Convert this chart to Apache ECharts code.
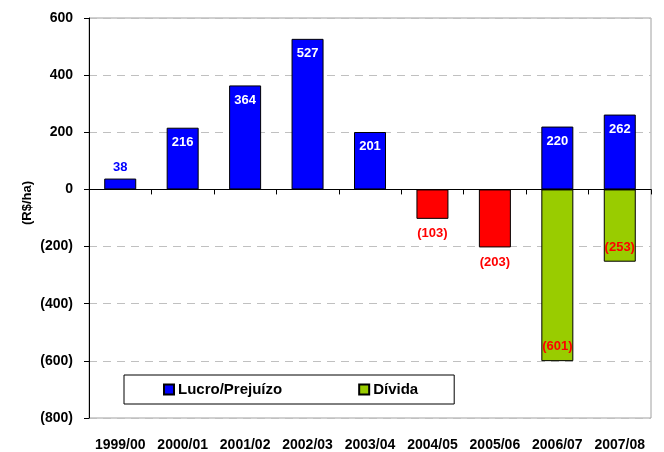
<!DOCTYPE html>
<html>
<head>
<meta charset="utf-8">
<script src="https://cdn.jsdelivr.net/npm/echarts@6/dist/echarts.min.js"></script>
<style>
html,body{margin:0;padding:0;background:#fff;}
#chart{width:664px;height:452px;}
</style>
</head>
<body>
<div id="chart"></div>
<script>
const categories = ['1999/00','2000/01','2001/02','2002/03','2003/04','2004/05','2005/06','2006/07','2007/08'];
const lucroValues = [38, 216, 364, 527, 201, -103, -203, 220, 262];
const dividaValues = [null, null, null, null, null, null, null, -601, -253];
const yTicks = { min: -800, max: 600, interval: 200 };

const FONT = 'Arial, "Liberation Sans", sans-serif';
const BLUE = '#0000FF', RED = '#FF0000', GREEN = '#99CC00';

function fmt(v) {
  v = Math.round(v);
  return v < 0 ? '(' + Math.abs(v) + ')' : String(v);
}

const lucroData = lucroValues.map(v => {
  if (v < 0) {
    return { value: v, itemStyle: { color: RED },
      label: { position: 'bottom', distance: 8, color: RED } };
  } else if (v < 60) {
    return { value: v, label: { position: 'top', distance: 5, color: BLUE } };
  }
  return { value: v, label: { position: 'insideTop', distance: 8, color: '#fff' } };
});

const chart = echarts.init(document.getElementById('chart'), null, { renderer: 'canvas' });
chart.setOption({
  animation: false,
  backgroundColor: '#fff',
  textStyle: { fontFamily: FONT },
  grid: { left: 89, right: 13, top: 18, bottom: 33, show: true, borderColor: '#a0a0a0', borderWidth: 1, backgroundColor: 'transparent' },
  legend: {
    data: ['Lucro/Prejuízo', 'Dívida'],
    left: 124, top: 375,
    orient: 'horizontal',
    icon: 'rect',
    itemWidth: 10, itemHeight: 10,
    itemGap: 76,
    padding: [7, 36, 7, 39],
    borderColor: '#000', borderWidth: 1,
    backgroundColor: '#fff',
    textStyle: { fontFamily: FONT, fontWeight: 'bold', fontSize: 15, color: '#000', padding: [0,0,0,-1] }
  },
  graphic: [{
    type: 'text',
    x: 27, y: 203,
    rotation: Math.PI / 2,
    style: { text: '(R$/ha)', fontFamily: FONT, fontWeight: 'bold', fontSize: 13, fill: '#000', align: 'center', verticalAlign: 'middle' }
  }],
  xAxis: [{
    type: 'category',
    data: categories,
    position: 'bottom',
    axisLine: { onZero: true, lineStyle: { color: '#000', width: 1 } },
    axisTick: { show: true, alignWithLabel: false, length: 5, lineStyle: { color: '#000' } },
    axisLabel: { show: false },
    splitLine: { show: false }
  }, {
    type: 'category',
    data: categories,
    position: 'bottom',
    axisLine: { show: false, onZero: false },
    axisTick: { show: false },
    axisLabel: { show: true, margin: 20, fontFamily: FONT, fontWeight: 'bold', fontSize: 14, color: '#000', interval: 0 },
    splitLine: { show: false }
  }],
  yAxis: {
    type: 'value',
    min: yTicks.min, max: yTicks.max, interval: yTicks.interval,
    axisLine: { show: true, lineStyle: { color: '#000', width: 1 } },
    axisTick: { show: true, length: 5, lineStyle: { color: '#000' } },
    axisLabel: { margin: 16, fontFamily: FONT, fontWeight: 'bold', fontSize: 14, color: '#000', formatter: fmt },
    splitLine: { show: true, lineStyle: { color: '#c0c0c0', type: [8, 6], width: 1 } }
  },
  series: [{
    name: 'Lucro/Prejuízo',
    type: 'bar',
    stack: 'total',
    xAxisIndex: 0,
    barWidth: 32,
    data: lucroData,
    itemStyle: { color: BLUE, borderColor: '#000', borderWidth: 1 },
    label: { show: true, fontFamily: FONT, fontWeight: 'bold', fontSize: 13, formatter: p => fmt(p.value) }
  }, {
    name: 'Dívida',
    type: 'bar',
    stack: 'total',
    xAxisIndex: 0,
    barWidth: 32,
    data: dividaValues,
    itemStyle: { color: GREEN, borderColor: '#000', borderWidth: 1 },
    label: { show: true, position: 'insideBottom', distance: 8, color: RED, fontFamily: FONT, fontWeight: 'bold', fontSize: 13, formatter: p => fmt(p.value) }
  }]
});
</script>
</body>
</html>
